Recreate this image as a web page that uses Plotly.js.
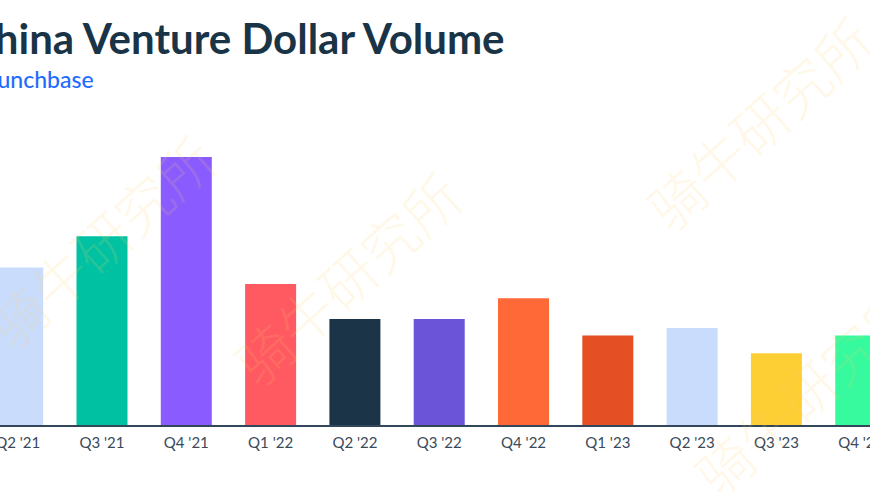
<!DOCTYPE html>
<html>
<head>
<meta charset="utf-8">
<script src="https://cdn.plot.ly/plotly-3.0.1.min.js"></script>
<style>html,body{margin:0;padding:0;background:#fff;}#chart{width:870px;height:492px;}</style>
</head>
<body>
<div id="chart"></div>
<script>
// Data (estimated, US$ billions)
const quarters = ["Q2 '21","Q3 '21","Q4 '21","Q1 '22","Q2 '22","Q3 '22","Q4 '22","Q1 '23","Q2 '23","Q3 '23","Q4 '23"];
const dollarVolume = [21.1, 25.3, 35.9, 18.9, 14.2, 14.2, 17.0, 12.0, 13.0, 9.6, 12.0];
const barColors = ["#C9DCFC","#00C2A2","#8A5CFF","#FF5A62","#1B3447","#6C54D9","#FF6937","#E44F24","#C9DCFC","#FDCF35","#37FA9E"];
const titleText = "China Venture Dollar Volume";
const sourceText = "crunchbase";
const watermarkText = "骑牛研究所";

const W = 870, H = 492, mT = 100, mB = 67;
const plotH = H - mT - mB;
const baseY = H - mB;
const px = x => x / W;
const py = y => (baseY - y) / plotH;

const wmPos = [[100,240],[346,277],[758,122],[806,389]];
const annotations = [
  {text: titleText, xref:'paper', yref:'paper', x: px(507), y: py(38), xanchor:'right', yanchor:'middle',
   showarrow:false, font:{family:'Lato', size:42, color:'#1A3447', weight:700}},
  {text: sourceText, xref:'paper', yref:'paper', x: px(96), y: py(63), xanchor:'right', yanchor:'top',
   showarrow:false, font:{family:'Lato', size:23, color:'#1E6BFF', weight:500}}
];
wmPos.forEach(p => annotations.push({
  text: watermarkText, xref:'paper', yref:'paper', x: px(p[0]), y: py(p[1]), xanchor:'center', yanchor:'middle',
  showarrow:false, textangle:-42, font:{family:'Noto Sans CJK SC', size:56, weight:300, color:'rgba(255,210,100,0.15)'}
}));

const trace = {
  type:'bar', x: quarters, y: dollarVolume, width: 0.605,
  marker:{color: barColors, line:{width:0}}, hoverinfo:'none'
};
const layout = {
  width: W, height: H, margin:{l:0, r:0, t:mT, b:mB},
  paper_bgcolor:'#ffffff', plot_bgcolor:'#ffffff', showlegend:false,
  xaxis:{type:'category', range:[-0.21, 10.11], showgrid:false, zeroline:false,
    showline:true, linecolor:'#33475A', linewidth:2, ticks:'', ticklabelstandoff:3,
    tickfont:{family:'Lato', size:15, color:'#3A4A59'}},
  yaxis:{range:[0, 43.55], visible:false, showgrid:false, zeroline:false, fixedrange:true},
  annotations: annotations
};
Plotly.newPlot('chart', [trace], layout, {staticPlot:true});
</script>
</body>
</html>
